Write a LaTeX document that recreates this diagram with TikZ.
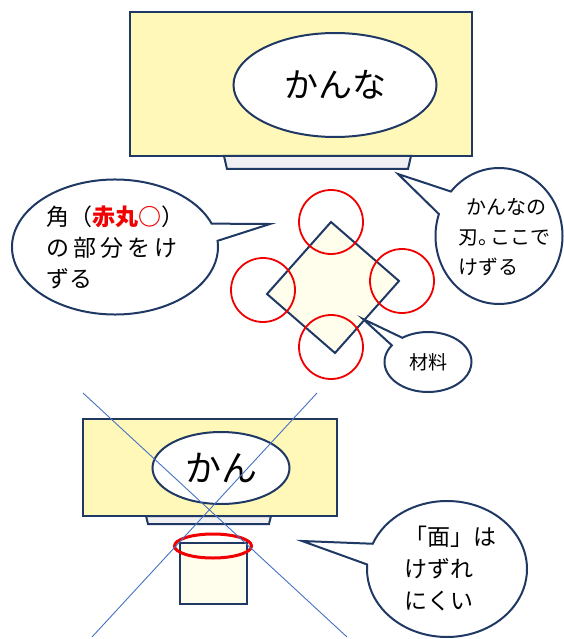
\documentclass[tikz,border=0pt]{standalone}
\usepackage{fontspec}
\setmainfont{Noto Sans CJK JP}
\usetikzlibrary{shapes.geometric,shapes.callouts}
\definecolor{navy1}{RGB}{31,56,100}
\definecolor{yel1}{RGB}{255,248,184}
\definecolor{cream1}{RGB}{255,253,236}
\definecolor{gray1}{RGB}{240,240,242}
\definecolor{red1}{RGB}{240,0,0}
\definecolor{blu1}{RGB}{68,114,196}
\tikzstyle{body} = [draw=navy1, fill=yel1, line width=2pt]
\tikzstyle{blade} = [draw=navy1, fill=gray1, line width=2pt]
\tikzstyle{work} = [draw=navy1, fill=cream1, line width=2pt]
\tikzstyle{namebox} = [ellipse, draw=navy1, fill=white, line width=2pt, inner sep=0pt]
\tikzstyle{bubble} = [ellipse callout, draw=navy1, fill=white, line width=2pt, inner sep=0pt]
\tikzstyle{ring} = [circle, draw=red1, line width=1.8pt, minimum size=64pt, inner sep=0pt]
\tikzstyle{xline} = [draw=blu1, line width=0.9pt]

\begin{document}
\begin{tikzpicture}[x=1pt, y=-1pt]
    \useasboundingbox (0,0) rectangle (563,639);

    % Plane seen from the front (top)
    \draw [body] (130,12) rectangle (472,156);
    \draw [blade] (224,156) -- (411,156) -- (408,169) -- (227,169) -- cycle;
    \node (kanna) [namebox, minimum width=203pt, minimum height=104pt,
        font=\fontsize{34}{40}\selectfont] at (335,85) {かんな};

    % Material turned on its corner
    \coordinate (wtop) at (331,222);
    \coordinate (wright) at (399,281);
    \coordinate (wbottom) at (335,353);
    \coordinate (wleft) at (267,294);
    \draw [work] (wtop) -- (wright) -- (wbottom) -- (wleft) -- cycle;
    \node (ringtop) [ring] at (331,222) {};
    \node (ringright) [ring] at (402,281) {};
    \node (ringbottom) [ring] at (331,347) {};
    \node (ringleft) [ring] at (263,290) {};

    % Callouts
    \node (corner) [bubble, minimum width=206pt, minimum height=135pt,
        callout absolute pointer={(270,224)}, callout pointer arc=15] at (115,247) {};
    \node (cornertxt) [align=left, font=\fontsize{23}{31}\selectfont, anchor=west] at (43,247)
        {角（{\color{red1}\bfseries 赤丸○}）\\の\kern4pt 部\kern4pt 分\kern4pt を\kern4pt け\\ずる};
    \node (edge) [bubble, minimum width=127pt, minimum height=136pt,
        callout absolute pointer={(398,174)}, callout pointer arc=22] at (499,236) {};
    \node (edgetxt) [align=left, font=\fontsize{20}{30}\selectfont, anchor=west] at (455,237)
        {\kern8pt かんなの\\刃。\kern-8pt ここで\\けずる};
    \node (zai) [bubble, minimum width=87pt, minimum height=60pt,
        callout absolute pointer={(363,319)}, callout pointer arc=20,
        font=\fontsize{19}{22}\selectfont] at (428,362) {材料};

    % Plane against a flat face (bottom)
    \draw [body] (83,419) rectangle (337,516);
    \draw [blade] (146,516) -- (271,516) -- (269,524) -- (148,524) -- cycle;
    \node (kan) [namebox, minimum width=137pt, minimum height=72pt,
        font=\fontsize{36}{40}\selectfont] at (221,468) {かん};
    \draw [work] (180,543) rectangle (247,604);
    \node (face) [ellipse, draw=red1, line width=3pt, minimum width=77pt,
        minimum height=24pt, inner sep=0pt] at (213,546) {};

    % Crossed out
    \coordinate (xa) at (83,393);
    \coordinate (xb) at (347,637);
    \coordinate (xc) at (317,393);
    \coordinate (xd) at (92,637);
    \draw [xline] (xa) -- (xb);
    \draw [xline] (xc) -- (xd);

    \node (men) [bubble, minimum width=160pt, minimum height=136pt,
        callout absolute pointer={(302,541)}, callout pointer arc=18] at (447,569) {};
    \node (mentxt) [align=left, font=\fontsize{23}{32}\selectfont, anchor=west] at (401,569)
        {「面」は\\けずれ\\にくい};
\end{tikzpicture}
\end{document}
